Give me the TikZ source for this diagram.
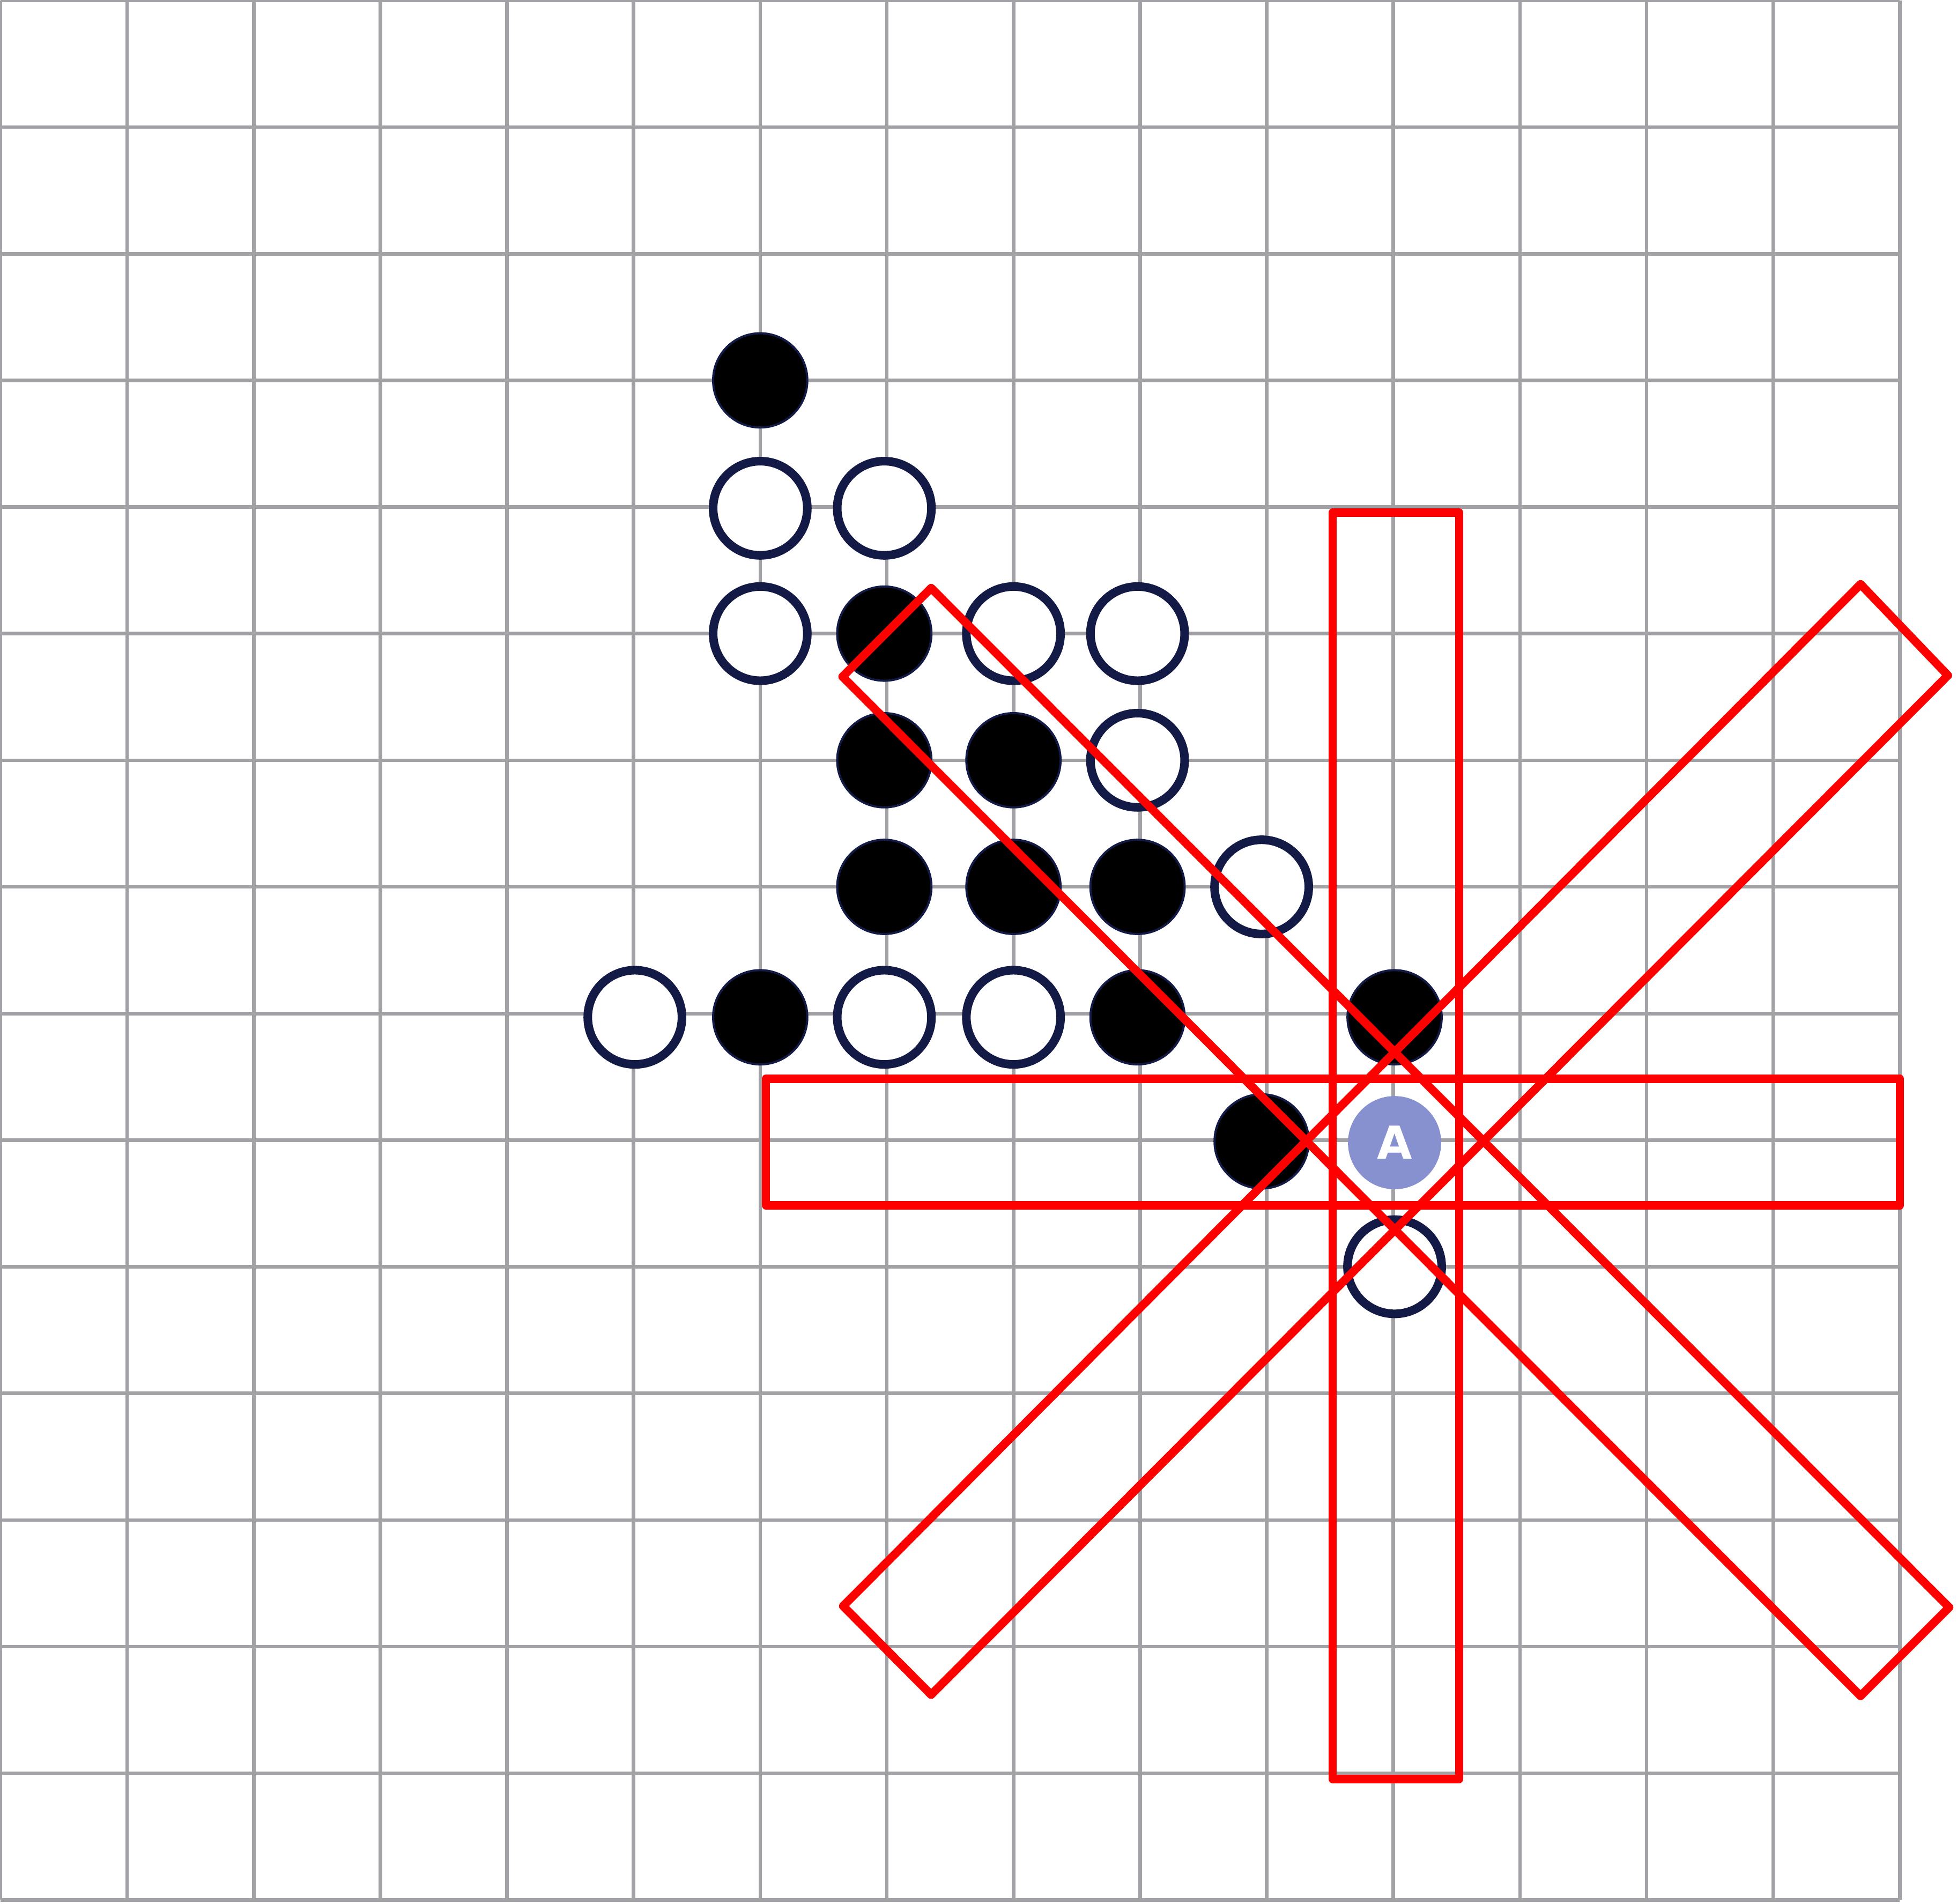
\documentclass[tikz,border=0pt]{standalone}
\usepackage{fontspec}
\newfontfamily\markfont{DejaVu Sans}
\definecolor{gridgray}{HTML}{A2A2A6}
\definecolor{stonenavy}{HTML}{131A45}
\definecolor{markblue}{HTML}{8891CF}
\definecolor{zonered}{HTML}{FF0000}
\tikzset{
  gridline/.style={draw=gridgray, line width=0.028cm},
  whitestone/.style={circle, inner sep=0pt, minimum size=0.744cm, fill=white, draw=stonenavy, line width=0.068cm},
  blackstone/.style={circle, inner sep=0pt, minimum size=0.744cm, fill=black, draw=stonenavy, line width=0.017cm},
  markstone/.style={circle, inner sep=0pt, minimum size=0.736cm, fill=markblue, text=white, font=\markfont\bfseries\fontsize{10.2}{12}\selectfont},
  zone/.style={draw=zonered, line width=0.066cm, line join=round}
}
\begin{document}
\begin{tikzpicture}[x=1cm, y=-1cm]
\useasboundingbox (-0.004,-0.004) rectangle (15.452,15.029);
% board grid
\draw[gridline] (0,0) grid (15,15);
% stones
\node[blackstone] (b1) at (6,3) {};
\node[whitestone] (w1) at (6,4.01) {};
\node[whitestone] (w2) at (6.98,4.01) {};
\node[whitestone] (w3) at (6,5) {};
\node[blackstone] (b2) at (6.98,5) {};
\node[whitestone] (w4) at (8,5) {};
\node[whitestone] (w5) at (8.98,5) {};
\node[blackstone] (b3) at (6.98,6) {};
\node[blackstone] (b4) at (8,6) {};
\node[whitestone] (w6) at (8.98,6) {};
\node[blackstone] (b5) at (6.98,7) {};
\node[blackstone] (b6) at (8,7) {};
\node[blackstone] (b7) at (8.98,7) {};
\node[whitestone] (w7) at (9.96,7) {};
\node[whitestone] (w8) at (5.01,8.03) {};
\node[blackstone] (b8) at (6,8.03) {};
\node[whitestone] (w9) at (6.98,8.03) {};
\node[whitestone] (w10) at (8,8.03) {};
\node[blackstone] (b9) at (8.98,8.03) {};
\node[blackstone] (b10) at (11.01,8.03) {};
\node[blackstone] (b11) at (9.96,9.01) {};
\node[markstone] (mA) at (11.01,9.02) {A};
\node[whitestone] (w11) at (11.01,10) {};
% red zones
\draw[zone] (10.52,4.045) rectangle (11.52,14.045);
\draw[zone] (6.045,8.515) rectangle (15.0,9.515);
\draw[zone] (7.35,4.64) -- (15.39,12.69) -- (14.69,13.39) -- (6.65,5.34) -- cycle;
\draw[zone] (6.655,12.68) -- (14.69,4.61) -- (15.38,5.33) -- (7.35,13.38) -- cycle;
\end{tikzpicture}
\end{document}
